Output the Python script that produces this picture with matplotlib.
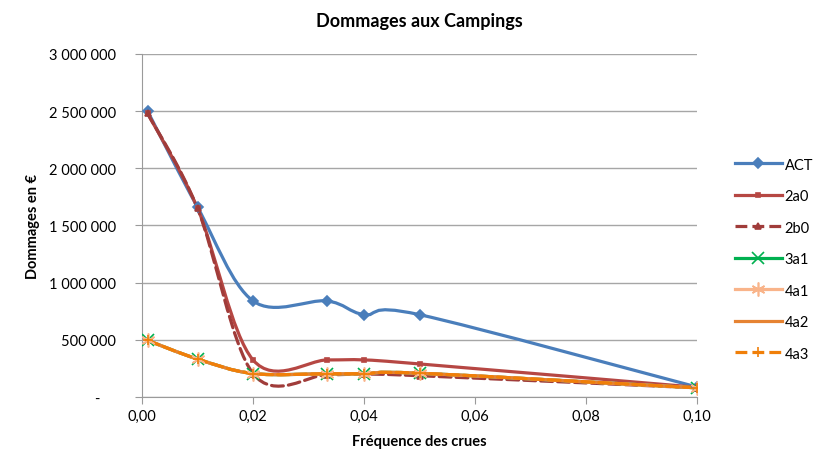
import numpy as np
import matplotlib
matplotlib.use("Agg")
import matplotlib.pyplot as plt
from matplotlib.path import Path
from matplotlib.patches import PathPatch
from matplotlib.lines import Line2D
from matplotlib.ticker import FuncFormatter, MultipleLocator

plt.rcParams['font.family'] = ['Lato', 'DejaVu Sans']

# flood frequencies (1/return period)
freq = [0.001, 0.01, 0.02, 0.0333, 0.04, 0.05, 0.10]

# damages in euros
act = [2500000, 1660000, 840000, 840000, 720000, 720000, 87000]
s2a0 = [2480000, 1650000, 324000, 324000, 324000, 289000, 85000]
s2b0 = [2480000, 1650000, 205000, 195000, 200000, 186000, 80000]
s3a1 = [495000, 332000, 205000, 203000, 203000, 208000, 80000]
s4a1 = [495000, 332000, 205000, 203000, 203000, 208000, 80000]
s4a2 = [495000, 332000, 205000, 203000, 203000, 208000, 80000]
s4a3 = [495000, 332000, 205000, 203000, 203000, 208000, 80000]

names = ['ACT', '2a0', '2b0', '3a1', '4a1', '4a2', '4a3']
series = [act, s2a0, s2b0, s3a1, s4a1, s4a2, s4a3]
colors = ['#4A7EBB', '#B64743', '#A03C3A', '#00B050', '#F9B48A', '#E68332', '#F07F09']
markers = ['D', 's', '^', 'x', (6, 2, 0), '_', '+']
msizes = [5, 3, 4, 8, 10, 4, 7]
styles = ['-', '-', '--', '-', '-', '-', '--']


def smooth_path(x, y):
    # Excel-like smoothed line: Catmull-Rom through the points as cubic Bezier
    p = np.column_stack([x, y]).astype(float)
    n = len(p)
    verts = [p[0]]
    codes = [Path.MOVETO]
    for i in range(n - 1):
        p0 = p[i - 1] if i > 0 else p[i]
        p1 = p[i]
        p2 = p[i + 1]
        p3 = p[i + 2] if i + 2 < n else p[i + 1]
        verts += [p1 + (p2 - p0) / 6, p2 - (p3 - p1) / 6, p2]
        codes += [Path.CURVE4] * 3
    return Path(verts, codes)


fig = plt.figure(figsize=(8.13, 4.6), dpi=100)
ax = fig.add_axes([0.1747, 0.1348, 0.6827, 0.7457])

handles = []
for name, vals, c, m, ms, ls in zip(names, series, colors, markers, msizes, styles):
    patch = PathPatch(smooth_path(freq, vals), facecolor='none', edgecolor=c,
                      lw=2.3, linestyle=ls, capstyle='round', zorder=3)
    ax.add_patch(patch)
    ax.plot(freq, vals, linestyle='none', marker=m, ms=ms, color=c,
            markeredgecolor=c, markeredgewidth=1.2, zorder=4)
    handles.append(Line2D([], [], color=c, lw=2.3, linestyle=ls, marker=m,
                          ms=ms, markeredgewidth=1.2, label=name))

ax.set_xlim(0, 0.10)
ax.set_ylim(0, 3000000)
ax.xaxis.set_major_locator(MultipleLocator(0.02))
ax.yaxis.set_major_locator(MultipleLocator(500000))
ax.xaxis.set_major_formatter(FuncFormatter(lambda v, p: ('%.2f' % v).replace('.', ',')))


def yfmt(v, p):
    if v == 0:
        return '-    '
    return '{:,.0f}'.format(v).replace(',', ' ')


ax.yaxis.set_major_formatter(FuncFormatter(yfmt))
ax.grid(axis='y', color='#A6A6A6', lw=1.0)
ax.set_axisbelow(True)
for s in ['top', 'right']:
    ax.spines[s].set_visible(False)
for s in ['left', 'bottom']:
    ax.spines[s].set_color('#9A9A9A')
ax.tick_params(axis='both', colors='#9A9A9A', labelcolor='black', labelsize=10.5, length=5)
ax.tick_params(axis='y', pad=14)

ax.set_title('Dommages aux Campings', fontsize=13, fontweight='bold', pad=20)
ax.set_xlabel('Fréquence des crues', fontsize=10.5, fontweight='bold', labelpad=8)
ax.set_ylabel('Dommages en €', fontsize=10.5, fontweight='bold', labelpad=6)

fig.legend(handles=handles, loc='upper left', bbox_to_anchor=(0.897, 0.668),
           frameon=False, fontsize=10.5, handlelength=3.2, labelspacing=1.2,
           handletextpad=0.2, borderaxespad=0)

fig.savefig('out.png', dpi=100)
